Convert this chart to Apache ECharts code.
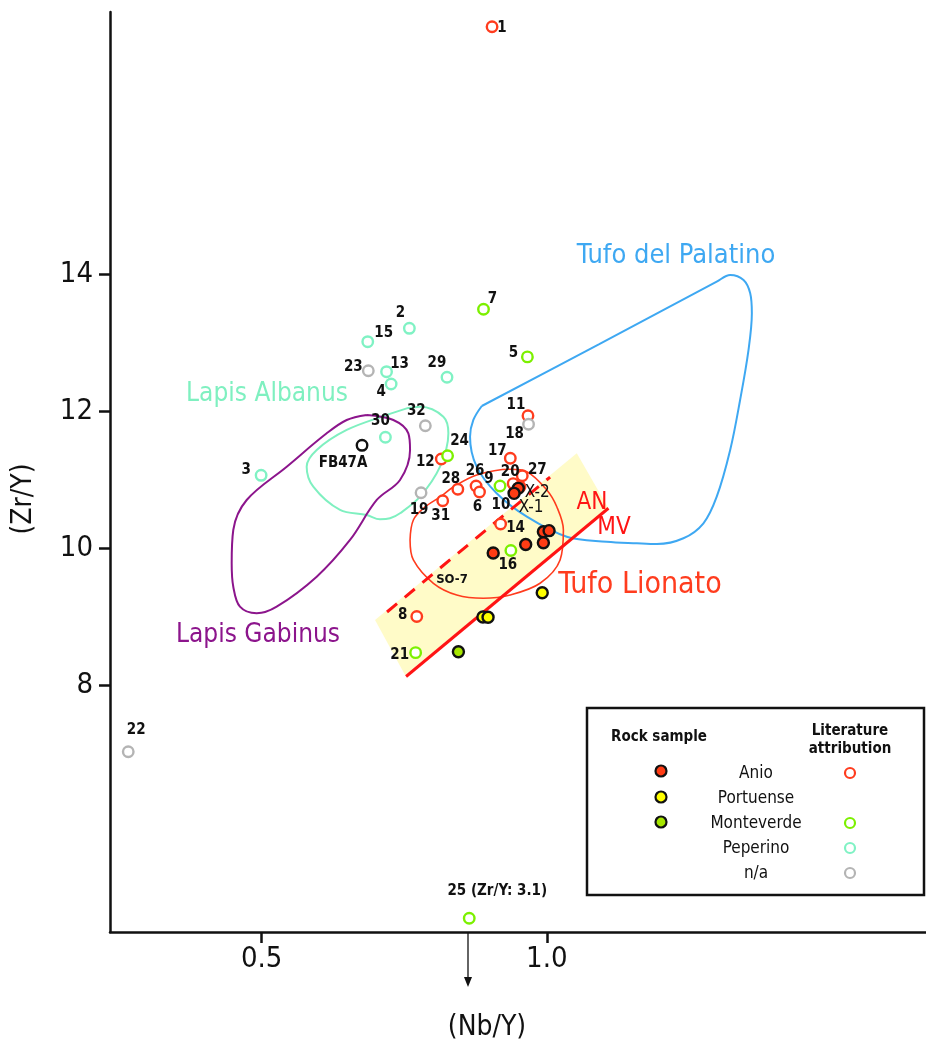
<!DOCTYPE html>
<html>
<head>
<meta charset="utf-8">
<script src="https://cdn.jsdelivr.net/npm/echarts@6/dist/echarts.min.js"></script>
<style>
  html, body { margin: 0; padding: 0; background: #ffffff; }
  #chart { width: 926px; height: 1045px; }
</style>
</head>
<body>
<div id="chart"></div>
<script>
// ---------- DATA (Nb/Y, Zr/Y) ----------
const xTicks = [0.5, 1.0];
const yTicks = [8, 10, 12, 14];

// Literature attribution (open circles)
const anioLitIds = ['1', '8', '11', '12', '14', '17', '20', '10', '26', '6', '27', '28', '31'];
const anioLit = [[0.904, 17.61], [0.772, 9.00], [0.967, 11.93], [0.815, 11.30], [0.919, 10.35], [0.936, 11.31],
  [0.941, 10.94], [0.953, 10.895], [0.876, 10.905], [0.882, 10.818], [0.957, 11.055], [0.844, 10.857], [0.8175, 10.69]];

const monteLitIds = ['7', '5', '24', '9', '16', '21', '25 (Zr/Y: 3.1)'];
const monteLit = [[0.889, 13.485], [0.966, 12.79], [0.826, 11.347], [0.918, 10.905], [0.937, 9.964], [0.770, 8.472], [0.864, 4.594]];

const peperinoLitIds = ['2', '15', '13', '4', '29', '30', '3'];
const peperinoLit = [[0.759, 13.207], [0.686, 13.012], [0.719, 12.574], [0.727, 12.394], [0.825, 12.492], [0.717, 11.616], [0.499, 11.061]];

const naLitIds = ['23', '32', '19', '18', '22'];
const naLit = [[0.687, 12.588], [0.787, 11.785], [0.7795, 10.807], [0.968, 11.806], [0.266, 7.026]];

const otherIds = ['FB47A'];
const other = [[0.676, 11.499]];

// Rock samples (filled circles)
const anioRockIds = ['X-2', 'X-1', '', '', '', '', ''];
const anioRock = [[0.950, 10.871], [0.9426, 10.798], [0.994, 10.238], [1.004, 10.253], [0.994, 10.077], [0.963, 10.051], [0.906, 9.927]];
const portuenseRock = [[0.992, 9.346], [0.888, 8.993], [0.897, 8.988]];
const monteRock = [[0.845, 8.486]];

// Field outlines
const palatinoField = [[0.886, 12.073], [1.092, 12.978], [1.298, 13.888], [1.3216, 13.985], [1.345, 13.912], [1.3567, 13.718],
  [1.3596, 13.426], [1.3537, 12.890], [1.339, 12.161], [1.3216, 11.431], [1.298, 10.749], [1.2747, 10.361], [1.2396, 10.142],
  [1.193, 10.058], [1.158, 10.069], [1.105, 10.092], [1.035, 10.165], [0.965, 10.457], [0.912, 10.799], [0.877, 11.187],
  [0.8654, 11.625], [0.8712, 11.869], [0.886, 12.073]];
const albanusField = [[0.7544, 12.039], [0.7777, 12.063], [0.8186, 11.917], [0.8274, 11.674], [0.8128, 11.187], [0.7777, 10.749],
  [0.7426, 10.507], [0.7251, 10.434], [0.7075, 10.419], [0.6842, 10.482], [0.6374, 10.555], [0.5905, 10.895], [0.5789, 11.187],
  [0.5965, 11.431], [0.6491, 11.723], [0.7193, 11.942], [0.7544, 12.039]];
const gabinusField = [[0.6842, 11.942], [0.7309, 11.869], [0.7572, 11.674], [0.7602, 11.431], [0.7426, 10.993], [0.7018, 10.701],
  [0.6549, 10.117], [0.5965, 9.581], [0.5263, 9.143], [0.4912, 9.047], [0.4619, 9.143], [0.4502, 9.435], [0.4474, 9.777],
  [0.4502, 10.263], [0.4737, 10.701], [0.5439, 11.187], [0.614, 11.674], [0.6491, 11.869], [0.6842, 11.942]];
const lionatoField = [[0.7602, 10.117], [0.766, 10.409], [0.7865, 10.599], [0.8128, 10.745], [0.8361, 10.891], [0.8772, 11.066],
  [0.9356, 11.149], [0.9649, 11.114], [1.0, 10.847], [1.0175, 10.603], [1.0291, 10.263], [1.0233, 9.825], [0.9882, 9.485],
  [0.9356, 9.314], [0.8888, 9.266], [0.8421, 9.314], [0.8011, 9.485], [0.766, 9.825], [0.7602, 10.117]];
const bandField = [[0.6988, 8.949], [1.0526, 11.382], [1.1081, 10.580], [0.7514, 8.146]];
const mvLine = [[0.7532, 8.124], [1.1081, 10.580]];
const anLine = [[0.7198, 9.066], [1.0058, 11.036]];

// ---------- STYLE ----------
const C = {
  anio: '#ff3c1e', monte: '#7cf000', pep: '#80f2c4', na: '#b4b4b4',
  rockAnio: '#ff3c14', rockPort: '#ffff00', rockMonte: '#a6e600',
  palatino: '#3ea8f2', albanus: '#7ff0c0', gabinus: '#8c158c', lionato: '#ff3c1e', red: '#ff1414', band: '#fffbc8'
};
const FN = "'DejaVu Sans Condensed', 'Liberation Sans Narrow', 'Liberation Sans', sans-serif";
const labelOffset = {
  '1': [10, 1], '2': [-9, -15], '15': [16, -9], '13': [13, -8], '23': [-15, -4], '4': [-10, 8], '29': [-10, -14],
  '32': [-9, -15], '30': [-5, -16], '3': [-15, -5], '24': [12, -15], '12': [-16, 3], '19': [-2, 17], '28': [-7, -10],
  '31': [-2, 15], '26': [-1, -15], '6': [-2, 15], '9': [-11, -7], '20': [-3, -12], '10': [-19, 18], '27': [15, -6],
  '17': [-13, -7], '18': [-14, 10], '11': [-12, -11], '7': [9, -10], '5': [-14, -4], '14': [15, 4], '16': [-3, 15],
  '8': [-14, -1], '21': [-16, 2], '22': [8, -22], '25 (Zr/Y: 3.1)': [28, -27], 'X-2': [19, 4], 'X-1': [17, 14], 'FB47A': [-19, 18]
};

function pts(arr, ids) {
  return arr.map((p, i) => {
    const id = ids ? ids[i] : '';
    const o = labelOffset[id] || [0, 0];
    return { value: p, name: id, label: { show: !!id, offset: o } };
  });
}
function openSeries(name, arr, ids, color) {
  return {
    name, type: 'scatter', data: pts(arr, ids), symbol: 'circle', symbolSize: 10.5, z: 5,
    itemStyle: { color: '#ffffff', borderColor: color, borderWidth: 2.4, opacity: 1 },
    label: { position: 'inside', formatter: '{b}', color: '#111', fontFamily: FN, fontWeight: 'bold', fontSize: 15 },
    emphasis: { disabled: true }
  };
}
function rockSeries(name, arr, ids, color) {
  return {
    name, type: 'scatter', data: pts(arr, ids), symbol: 'circle', symbolSize: 11, z: 6,
    itemStyle: { color: color, borderColor: '#111', borderWidth: 2.4, opacity: 1 },
    label: { position: 'inside', formatter: '{b}', color: '#111', fontFamily: FN, fontSize: 17 },
    emphasis: { disabled: true }
  };
}
function outline(name, arr, color, width) {
  return {
    name, type: 'line', data: arr, smooth: 0.35, symbol: 'none', z: 2, silent: true,
    lineStyle: { color: color, width: width }
  };
}
function txt(x, y, text, font, fill, extra) {
  return Object.assign({ type: 'text', x, y, z: 20, style: { text, font, fill, align: 'center', verticalAlign: 'middle' } }, extra || {});
}

const chart = echarts.init(document.getElementById('chart'));
const option = {
  backgroundColor: '#ffffff',
  animation: false,
  grid: { left: 110, right: 0, top: 12, bottom: 113 },
  xAxis: {
    type: 'value', min: 0.234, max: 1.665,
    axisLine: { onZero: false, lineStyle: { color: '#111', width: 2.5 } },
    axisTick: { customValues: xTicks, length: 11, lineStyle: { color: '#111', width: 2.5 } },
    axisLabel: { customValues: xTicks, formatter: v => v.toFixed(1), margin: 13, color: '#111', fontFamily: FN, fontSize: 29 },
    splitLine: { show: false }
  },
  yAxis: {
    type: 'value', min: 4.394, max: 17.825,
    axisLine: { onZero: false, lineStyle: { color: '#111', width: 2.5 } },
    axisTick: { customValues: yTicks, length: 11, lineStyle: { color: '#111', width: 2.5 } },
    axisLabel: { customValues: yTicks, margin: 17, color: '#111', fontFamily: FN, fontSize: 29 },
    splitLine: { show: false }
  },
  series: [
    {
      name: 'band', type: 'custom', z: 1, silent: true,
      renderItem: (params, api) => {
        if (params.dataIndex > 0) return;
        const points = bandField.map(p => api.coord(p));
        return { type: 'polygon', shape: { points }, style: { fill: C.band } };
      },
      data: [0]
    },
    outline('Tufo del Palatino', palatinoField, C.palatino, 2),
    outline('Lapis Albanus', albanusField, C.albanus, 2),
    outline('Lapis Gabinus', gabinusField, C.gabinus, 2),
    outline('Tufo Lionato', lionatoField, C.lionato, 1.6),
    { name: 'MV', type: 'line', data: mvLine, symbol: 'none', z: 3, silent: true, lineStyle: { color: C.red, width: 3 } },
    { name: 'AN', type: 'line', data: anLine, symbol: 'none', z: 3, silent: true, lineStyle: { color: C.red, width: 3, type: [13, 10] } },
    openSeries('Anio lit', anioLit, anioLitIds, C.anio),
    openSeries('Monteverde lit', monteLit, monteLitIds, C.monte),
    openSeries('Peperino lit', peperinoLit, peperinoLitIds, C.pep),
    openSeries('n/a lit', naLit, naLitIds, C.na),
    openSeries('FB47A', other, otherIds, '#111'),
    rockSeries('Anio', anioRock, anioRockIds, C.rockAnio),
    rockSeries('Portuense', portuenseRock, null, C.rockPort),
    rockSeries('Monteverde', monteRock, null, C.rockMonte)
  ],
  graphic: [
    txt(24, 499, '(Zr/Y)', '28px ' + FN, '#111', { rotation: Math.PI / 2 }),
    txt(487, 1028, '(Nb/Y)', '28px ' + FN, '#111'),
    { type: 'line', z: 20, shape: { x1: 468, y1: 933, x2: 468, y2: 980 }, style: { stroke: '#111', lineWidth: 1.3 } },
    { type: 'polygon', z: 20, shape: { points: [[464, 977], [472, 977], [468, 987]] }, style: { fill: '#111' } },
    txt(676, 256, 'Tufo del Palatino', '27px ' + FN, C.palatino),
    txt(267, 394, 'Lapis Albanus', '26px ' + FN, C.albanus),
    txt(258, 635, 'Lapis Gabinus', '26px ' + FN, C.gabinus),
    txt(640, 585, 'Tufo Lionato', '30px ' + FN, C.lionato),
    txt(592, 503, 'AN', '24px ' + FN, C.red),
    txt(614, 528, 'MV', '24px ' + FN, C.red),
    txt(452, 580, 'SO-7', 'bold 13px ' + FN, '#111'),
    { type: 'rect', z: 20, shape: { x: 587, y: 708, width: 337, height: 187 }, style: { fill: '#fff', stroke: '#111', lineWidth: 2.5 } },
    txt(659, 737, 'Rock sample', 'bold 15px ' + FN, '#111', { z: 21 }),
    txt(850, 731, 'Literature', 'bold 15px ' + FN, '#111', { z: 21 }),
    txt(850, 749, 'attribution', 'bold 15px ' + FN, '#111', { z: 21 }),
    { type: 'circle', z: 21, shape: { cx: 661, cy: 771, r: 5.5 }, style: { fill: C.rockAnio, stroke: '#111', lineWidth: 2.2 } },
    { type: 'circle', z: 21, shape: { cx: 661, cy: 797, r: 5.5 }, style: { fill: C.rockPort, stroke: '#111', lineWidth: 2.2 } },
    { type: 'circle', z: 21, shape: { cx: 661, cy: 822, r: 5.5 }, style: { fill: C.rockMonte, stroke: '#111', lineWidth: 2.2 } },
    txt(756, 774, 'Anio', '17px ' + FN, '#111', { z: 21 }),
    txt(756, 799, 'Portuense', '17px ' + FN, '#111', { z: 21 }),
    txt(756, 824, 'Monteverde', '17px ' + FN, '#111', { z: 21 }),
    txt(756, 849, 'Peperino', '17px ' + FN, '#111', { z: 21 }),
    txt(756, 874, 'n/a', '17px ' + FN, '#111', { z: 21 }),
    { type: 'circle', z: 21, shape: { cx: 850, cy: 773, r: 5 }, style: { fill: '#fff', stroke: C.anio, lineWidth: 2.2 } },
    { type: 'circle', z: 21, shape: { cx: 850, cy: 823, r: 5 }, style: { fill: '#fff', stroke: C.monte, lineWidth: 2.2 } },
    { type: 'circle', z: 21, shape: { cx: 850, cy: 848, r: 5 }, style: { fill: '#fff', stroke: C.pep, lineWidth: 2.2 } },
    { type: 'circle', z: 21, shape: { cx: 850, cy: 873, r: 5 }, style: { fill: '#fff', stroke: C.na, lineWidth: 2.2 } }
  ]
};
chart.setOption(option);
</script>
</body>
</html>
